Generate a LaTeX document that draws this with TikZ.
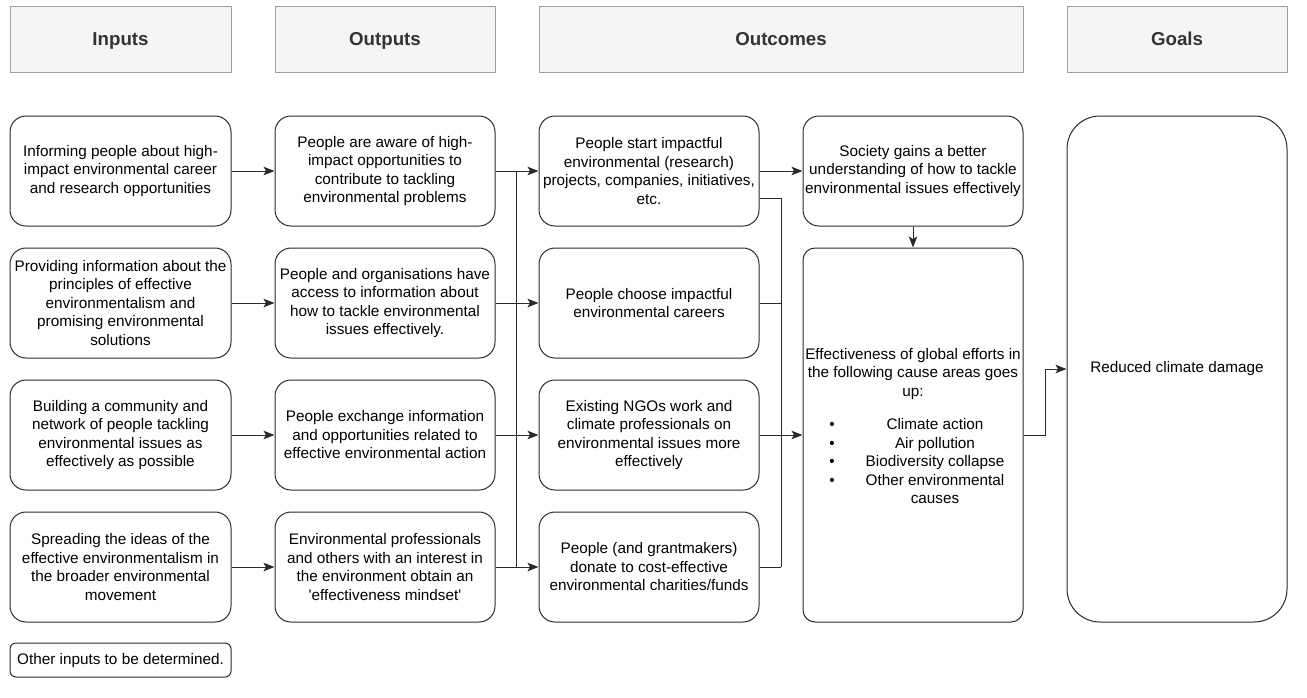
\documentclass[tikz,border=0pt]{standalone}
\usepackage{fontspec}
\setmainfont{Liberation Sans}
\usetikzlibrary{arrows.meta}
\definecolor{hdrfill}{HTML}{F5F5F5}
\definecolor{hdrdraw}{HTML}{A0A0A0}
\definecolor{hdrtext}{HTML}{333333}
\definecolor{boxdraw}{HTML}{2A2A2A}
\begin{document}
\begin{tikzpicture}[x=1pt,y=-1pt,
  every node/.style={font=\fontsize{15.3}{18.5}\selectfont, align=center},
  hdr/.style={draw=hdrdraw, fill=hdrfill, line width=1pt, inner sep=0pt, text=hdrtext, minimum height=66pt, text height=14pt, text depth=4pt, font=\fontsize{18.7}{22}\selectfont\bfseries},
  htxt/.style={text=hdrtext, inner sep=0pt, text height=14pt, text depth=4pt, font=\fontsize{18.7}{22}\selectfont\bfseries},
  rbox/.style={draw=boxdraw, line width=1pt, rounded corners=16pt, minimum width=221pt, minimum height=110pt, inner sep=0pt},
  one/.style={text height=11pt, text depth=3pt, inner sep=0pt},
  arr/.style={draw=boxdraw, line width=1pt, -{Stealth[length=11pt,width=8.5pt,inset=2.5pt]}},
  ln/.style={draw=boxdraw, line width=1pt}]
\useasboundingbox (0,0) rectangle (1307,697);

% headers
\node[hdr, minimum width=221pt] (hin) at (120.5,39) {};
\node[hdr, minimum width=220pt] (hout) at (385,39) {};
\node[hdr, minimum width=484pt] (hoc) at (781,39) {};
\node[hdr, minimum width=220pt] (hgo) at (1177,39) {};
\node[htxt] (hint) at (120.5,40.5) {Inputs};
\node[htxt] (houtt) at (385,40.5) {Outputs};
\node[htxt] (hoct) at (781,40.5) {Outcomes};
\node[htxt] (hgot) at (1177,40.5) {Goals};

% inputs
\node[rbox] (i1) at (120.5,171) {Informing people about high-\\impact environmental career\\and research opportunities};
\node[rbox] (i2) at (120.5,303) {Providing information about the\\principles of effective\\environmentalism and\\promising environmental\\solutions};
\node[rbox] (i3) at (120.5,435) {Building a community and\\network of people tackling\\environmental issues as\\effectively as possible};
\node[rbox] (i4) at (120.5,567) {Spreading the ideas of the\\effective environmentalism in\\the broader environmental\\movement};
\node[draw=boxdraw, line width=1pt, rounded corners=6pt, minimum width=221pt, minimum height=34pt, inner sep=0pt, text height=11pt, text depth=3pt] (oth) at (120.5,660) {Other inputs to be determined.};

% outputs
\node[rbox, minimum width=220pt] (o1) at (385,171) {People are aware of high-\\impact opportunities to\\contribute to tackling\\environmental problems};
\node[rbox, minimum width=220pt] (o2) at (385,303) {People and organisations have\\access to information about\\how to tackle environmental\\issues effectively.};
\node[rbox, minimum width=220pt] (o3) at (385,435) {People exchange information\\and opportunities related to\\effective environmental action};
\node[rbox, minimum width=220pt] (o4) at (385,567) {Environmental professionals\\and others with an interest in\\the environment obtain an\\\textquotesingle effectiveness mindset\textquotesingle};

% outcomes
\node[rbox, minimum width=220pt] (c1) at (649,171) {People start impactful\\environmental (research)\\projects, companies, initiatives,\\etc.};
\node[rbox, minimum width=220pt] (c2) at (649,303) {People choose impactful\\environmental careers};
\node[rbox, minimum width=220pt] (c3) at (649,435) {Existing NGOs work and\\climate professionals on\\environmental issues more\\effectively};
\node[rbox, minimum width=220pt] (c4) at (649,567) {People (and grantmakers)\\donate to cost-effective\\environmental charities/funds};

\node[rbox, minimum width=220pt] (soc) at (913,171) {Society gains a better\\understanding of how to tackle\\environmental issues effectively};
\node[rbox, minimum width=220pt, minimum height=374pt, rounded corners=12pt] (eff) at (913,435) {};
\node (efft) at (913,374) {Effectiveness of global efforts in\\the following cause areas goes\\up:};
\node[one] (d1) at (832,425) {\textbullet};
\node[one] (d2) at (832,444) {\textbullet};
\node[one] (d3) at (832,462) {\textbullet};
\node[one] (d4) at (832,481) {\textbullet};
\node[one] (l1) at (935,425) {Climate action};
\node[one] (l2) at (935,444) {Air pollution};
\node[one] (l3) at (935,462) {Biodiversity collapse};
\node[one] (l4a) at (935,481) {Other environmental};
\node[one] (l4b) at (935,499.5) {causes};

% goals
\node[rbox, minimum width=220pt, minimum height=506pt, rounded corners=33pt] (goal) at (1177,369) {Reduced climate damage};

% connectors inputs -> outputs
\draw[arr] (i1.east) -- (o1.west);
\draw[arr] (i2.east) -- (o2.west);
\draw[arr] (i3.east) -- (o3.west);
\draw[arr] (i4.east) -- (o4.west);

% bus outputs -> outcomes
\coordinate (b1) at (516,171);
\coordinate (b2) at (516,303);
\coordinate (b3) at (516,435);
\coordinate (b4) at (516,567);
\draw[ln] (o1.east) -- (b1);
\draw[ln] (o2.east) -- (b2);
\draw[ln] (o3.east) -- (b3);
\draw[ln] (o4.east) -- (b4);
\draw[ln] (b1) -- (b4);
\draw[arr] (b1) -- (c1.west);
\draw[arr] (b2) -- (c2.west);
\draw[arr] (b3) -- (c3.west);
\draw[arr] (b4) -- (c4.west);

% outcomes -> effectiveness
\coordinate (r1) at (781,198);
\coordinate (r2) at (781,303);
\coordinate (r4) at (781,567);
\draw[ln] (c1.east |- r1) -- (r1);
\draw[ln] (c2.east) -- (r2);
\draw[ln] (c4.east) -- (r4);
\draw[ln] (r1) -- (r4);
\draw[arr] (c3.east) -- (eff.west);

\draw[arr] (c1.east) -- (soc.west);
\draw[arr] (soc.south) -- (eff.north);
\draw[arr] (eff.east) -- ++(22,0) |- (goal.west);
\end{tikzpicture}
\end{document}
